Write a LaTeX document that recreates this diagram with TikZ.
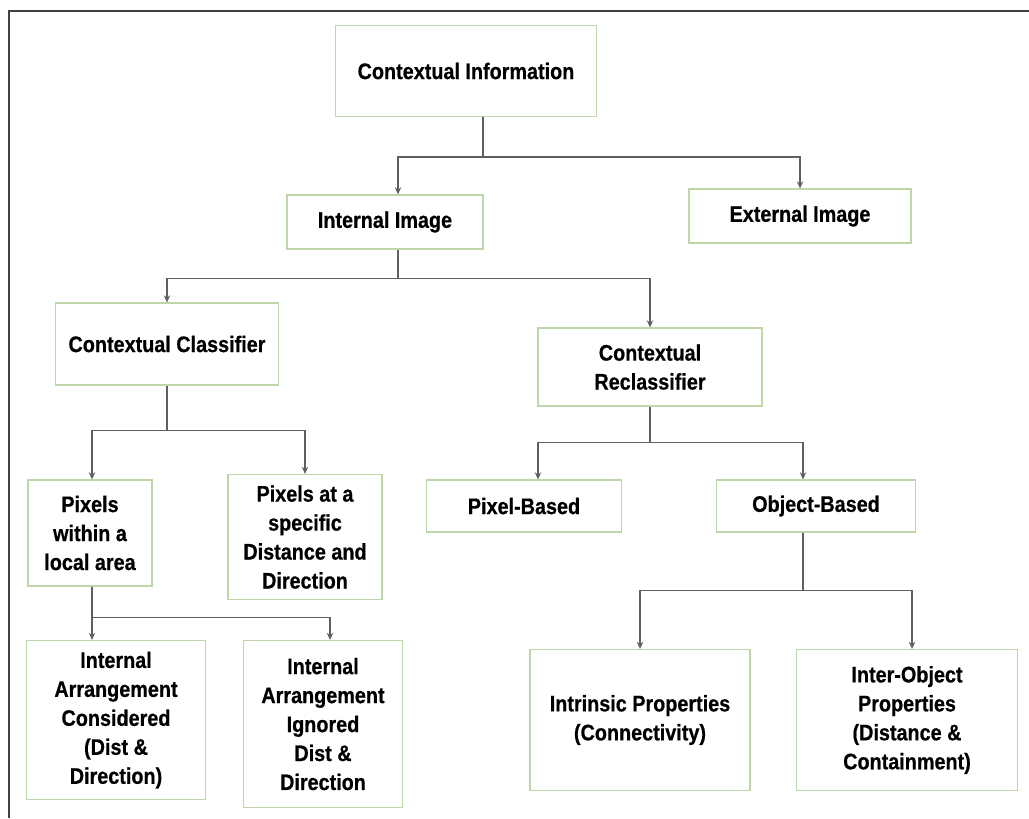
\documentclass[tikz,border=0pt]{standalone}
\usepackage{fontspec}
\setmainfont{Liberation Sans}[FakeStretch=0.88, BoldFeatures={FakeBold=0.6}]
\usetikzlibrary{calc,arrows.meta}

\definecolor{boxgreen}{RGB}{190,214,168}
\definecolor{linkgray}{RGB}{95,95,95}

\tikzset{
  box/.style={draw=boxgreen, line width=0.9pt, align=center, inner sep=2pt,
    font=\bfseries\fontsize{16}{20.6}\selectfont},
  link/.style={draw=linkgray, line width=1.1pt},
  arrow/.style={link, -{Stealth[length=5pt,width=4.5pt]}}
}

\begin{document}
\begin{tikzpicture}[x=0.025cm, y=-0.025cm]
    \useasboundingbox (0,0) rectangle (1029,818);
    \draw[line width=0.8pt, black!75] (9,818) -- (9,11) -- (1029,11);

    % levels, top to bottom
    \node[box, minimum width=261*0.025cm, minimum height=91*0.025cm] (info) at (466,71) {Contextual Information};
    \node[box, minimum width=196*0.025cm, minimum height=54*0.025cm] (intimg) at (385,222) {Internal Image};
    \node[box, minimum width=222*0.025cm, minimum height=54*0.025cm] (extimg) at (800,216) {External Image};
    \node[box, minimum width=223*0.025cm, minimum height=82*0.025cm] (class) at (167,344) {Contextual Classifier};
    \node[box, minimum width=224*0.025cm, minimum height=78*0.025cm] (reclass) at (650,367) {Contextual\\Reclassifier};
    \node[box, minimum width=195*0.025cm, minimum height=52*0.025cm] (pixbased) at (524,506) {Pixel-Based};
    \node[box, minimum width=199*0.025cm, minimum height=52*0.025cm] (objbased) at (816,506) {Object-Based};
    \node[box, minimum width=124*0.025cm, minimum height=106*0.025cm] (local) at (90,533) {Pixels\\within a\\local area};
    \node[box, minimum width=154*0.025cm, minimum height=125*0.025cm] (dist) at (305,537) {Pixels at a\\specific\\Distance and\\Direction};
    \node[box, minimum width=179*0.025cm, minimum height=159*0.025cm] (considered) at (116,720) {Internal\\Arrangement\\Considered\\(Dist \&\\Direction)};
    \node[box, minimum width=159*0.025cm, minimum height=167*0.025cm] (ignored) at (323,724) {Internal\\Arrangement\\Ignored\\Dist \&\\Direction};
    \node[box, minimum width=220*0.025cm, minimum height=141*0.025cm] (intrinsic) at (640,720) {Intrinsic Properties\\(Connectivity)};
    \node[box, minimum width=221*0.025cm, minimum height=141*0.025cm] (interobj) at (907,720) {Inter-Object\\Properties\\(Distance \&\\Containment)};

    % connectors
    \draw[link] (info.south) ++(17,0) -- ++(0,40) coordinate (j1);
    \draw[arrow] (j1) -| ($(intimg.north)+(13,0)$);
    \draw[arrow] (j1) -| (extimg.north);

    \draw[link] (intimg.south) ++(13,0) -- ++(0,29) coordinate (j2);
    \draw[arrow] (j2) -| ($(class.north)+(0,0)$);
    \draw[arrow] (j2) -| (reclass.north);

    \draw[link] (class.south) -- ++(0,45) coordinate (j3);
    \draw[arrow] (j3) -| ($(local.north)+(2,0)$);
    \draw[arrow] (j3) -| (dist.north);

    \draw[link] (reclass.south) -- ++(0,36) coordinate (j4);
    \draw[arrow] (j4) -| ($(pixbased.north)+(14,0)$);
    \draw[arrow] (j4) -| ($(objbased.north)+(-13,0)$);

    \draw[link] (objbased.south) ++(-13,0) -- ++(0,58) coordinate (j5);
    \draw[arrow] (j5) -| (intrinsic.north);
    \draw[arrow] (j5) -| ($(interobj.north)+(5,0)$);

    \draw[link] (local.south) ++(2,0) -- ++(0,31) coordinate (j6);
    \draw[arrow] (j6) -| ($(considered.north)+(-24,0)$);
    \draw[arrow] (j6) -| ($(ignored.north)+(7,0)$);
\end{tikzpicture}
\end{document}
